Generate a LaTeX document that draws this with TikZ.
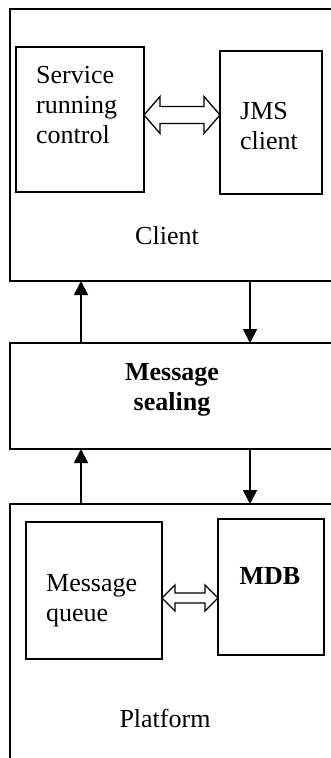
\documentclass[tikz,border=0pt]{standalone}
\usepackage{fontspec}
\setmainfont{Liberation Serif}
\usetikzlibrary{arrows.meta,calc}

% hollow two-headed arrow between two tip points:
% #1 left tip, #2 right tip, #3 head length, #4 head half width, #5 shaft half width
\newcommand\hollowarrow[5]{%
  \draw[dbl] let \p1=(#1), \p2=(#2) in
    (\p1) -- (\x1+#3pt,\y1+#4pt) -- (\x1+#3pt,\y1+#5pt)
    -- (\x2-#3pt,\y2+#5pt) -- (\x2-#3pt,\y2+#4pt) -- (\p2)
    -- (\x2-#3pt,\y2-#4pt) -- (\x2-#3pt,\y2-#5pt)
    -- (\x1+#3pt,\y1-#5pt) -- (\x1+#3pt,\y1-#4pt) -- cycle;}

\begin{document}
\begin{tikzpicture}[x=1pt,y=-1pt,
  frame/.style={draw,line width=2pt,inner sep=0pt,outer sep=0pt},
  box/.style={draw,line width=1.8pt,inner sep=0pt,outer sep=0pt},
  lbl/.style={font=\fontsize{26}{30}\selectfont,inner sep=0pt,align=left},
  blbl/.style={font=\fontsize{26}{30}\selectfont\bfseries,inner sep=0pt,align=center},
  flow/.style={line width=1.8pt,-{Triangle[width=14pt,length=14pt]}},
  dbl/.style={line width=1.3pt,fill=white,line join=miter}]

\useasboundingbox (0,0) rectangle (331,758);
\clip (0,0) rectangle (331,758);

% outer layers, running past the right edge
\node[frame,minimum width=335pt,minimum height=272pt] (client) at (177.5,145) {};
\node[frame,minimum width=335pt,minimum height=106pt] (msg) at (177.5,396) {};
\node[frame,minimum width=335pt,minimum height=266pt] (plat) at (177.5,637) {};

% client parts
\node[box,minimum width=128pt,minimum height=145pt] (svc) at (80,119.5) {};
\node[box,minimum width=102pt,minimum height=143pt] (jms) at (271,122.5) {};
\node[lbl,anchor=north west] (svctext) at (36,66) {Service\\running\\control};
\node[lbl,anchor=north west] (jmstext) at (240,102) {JMS\\client};
\node[lbl] (clienttext) at (167,236) {Client};

% message sealing layer
\node[blbl] (msgtext) at (172,390) {Message\\sealing};

% platform parts
\node[box,minimum width=136pt,minimum height=137pt] (mq) at (94,590.5) {};
\node[box,minimum width=106pt,minimum height=136pt] (mdb) at (271,587) {};
\node[lbl,anchor=north west] (mqtext) at (46,574) {Message\\queue};
\node[blbl,anchor=north] (mdbtext) at (270,567) {MDB};
\node[lbl] (plattext) at (165,718) {Platform};

% vertical flows between layers
\coordinate (L) at (81,0);
\coordinate (R) at (250,0);
\draw[flow] (msg.north -| L) -- (client.south -| L);
\draw[flow] (client.south -| R) -- (msg.north -| R);
\draw[flow] (plat.north -| L) -- (msg.south -| L);
\draw[flow] (msg.south -| R) -- (plat.north -| R);

% two-way exchanges inside the layers
\coordinate (a1) at (svc.east |- 0,115);
\coordinate (b1) at (jms.west |- 0,115);
\hollowarrow{a1}{b1}{16}{18.5}{8.5}
\coordinate (a2) at (mq.east |- 0,598);
\coordinate (b2) at (mdb.west |- 0,598);
\hollowarrow{a2}{b2}{13}{13}{5}
\end{tikzpicture}
\end{document}
